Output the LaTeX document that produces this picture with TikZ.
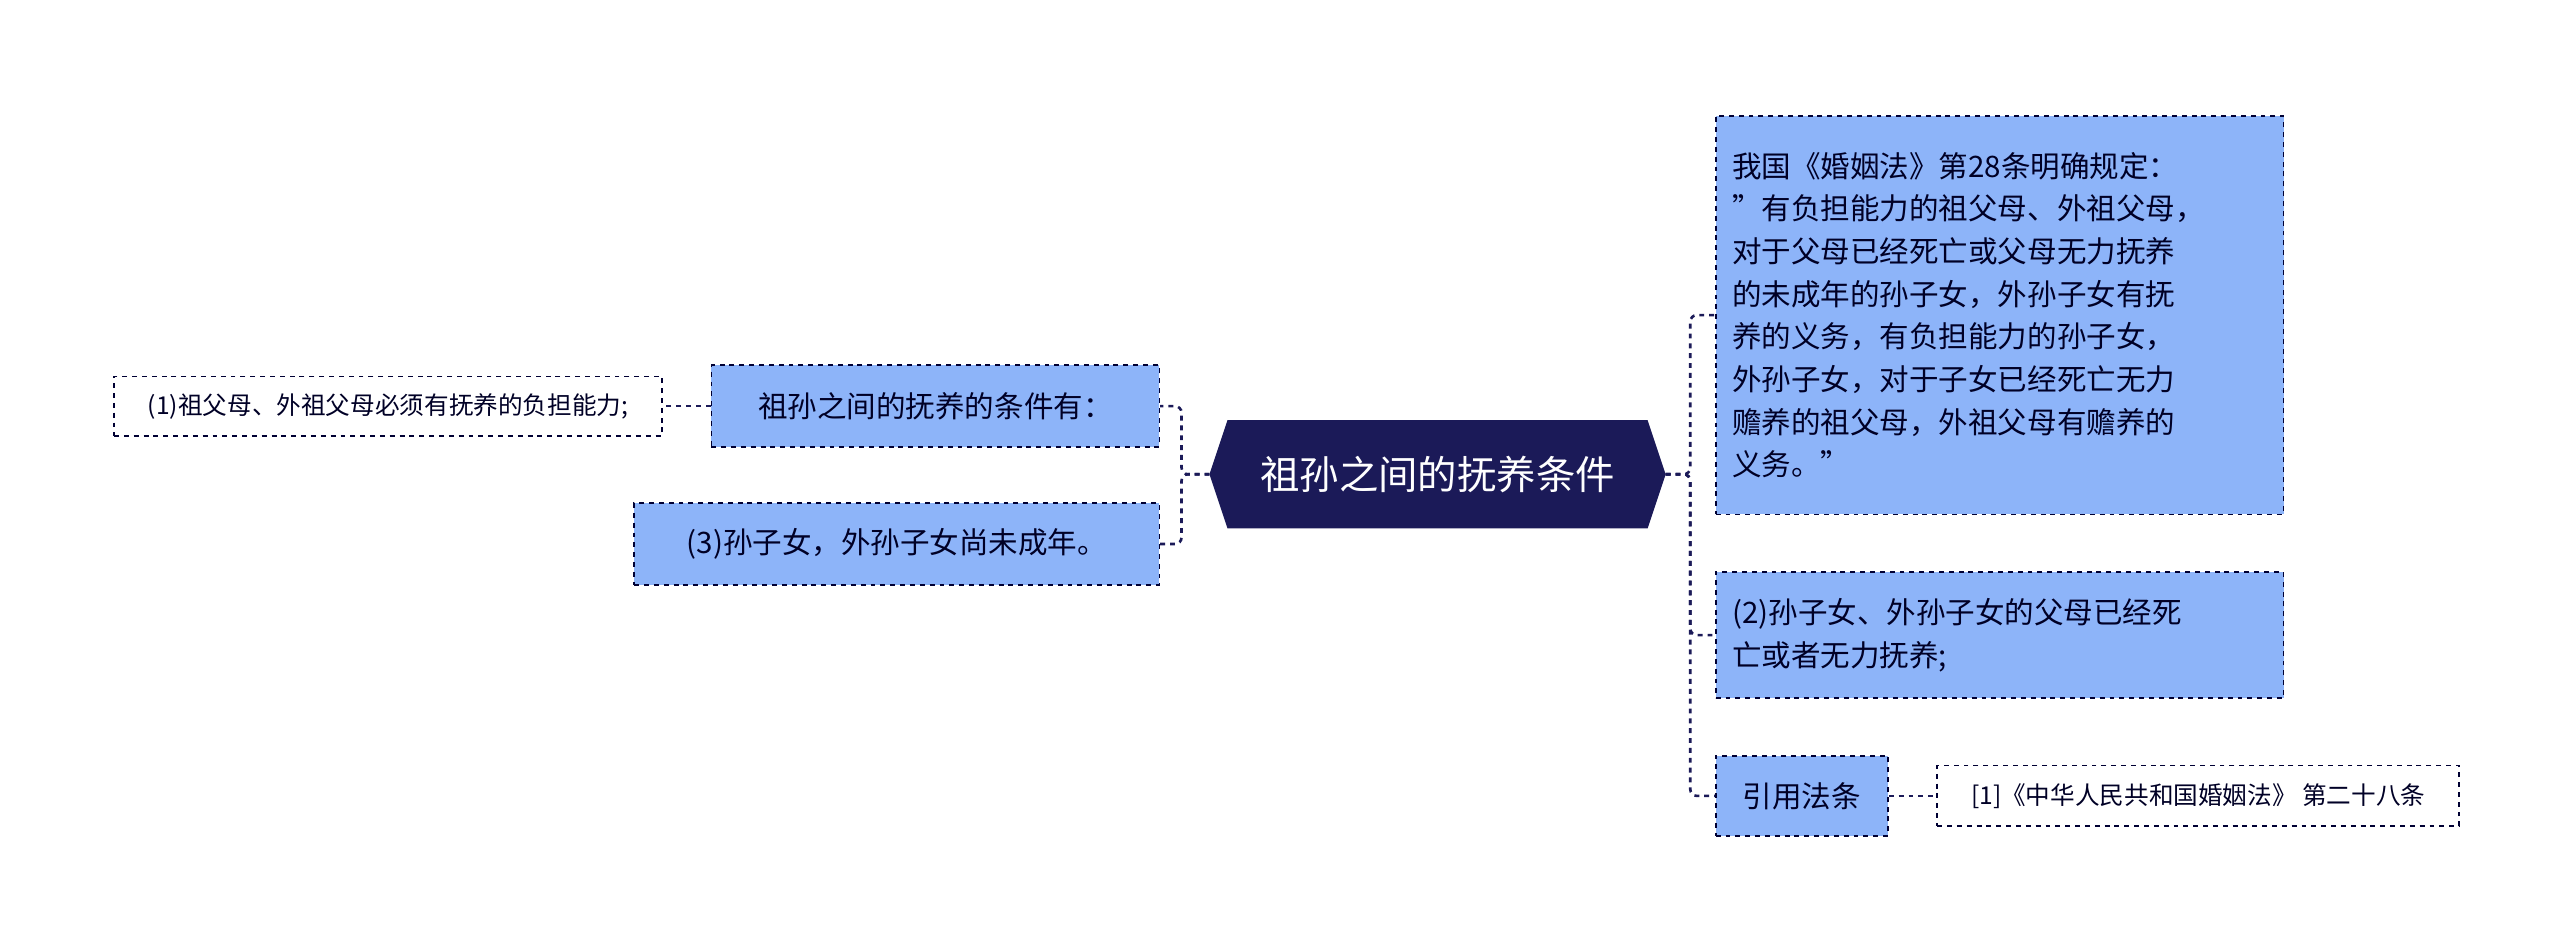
\documentclass[tikz,border=0pt]{standalone}
\usepackage{fontspec}
\setmainfont{Noto Sans CJK SC}
\begin{document}
\begin{tikzpicture}[x=1pt,y=-1pt,
 bx/.style={draw=black!80!blue,dashed,line width=1pt,fill=boxblue,inner sep=0pt,anchor=north west,font=\fontsize{18}{26}\selectfont,text=black!85!blue},
 lf/.style={bx,fill=white,font=\fontsize{15}{20}\selectfont},
 cn/.style={draw=navy,dashed,line width=1.6pt,rounded corners=4pt}]
\definecolor{boxblue}{HTML}{8DB4F9}
\definecolor{navy}{HTML}{1B1A58}
\useasboundingbox (0,0) rectangle (1560,576);
% center
\fill[navy] (737,289)--(748,256)--(1004,256)--(1015,289)--(1004,322)--(748,322)--cycle;
\node[text=white,font=\fontsize{24}{28}\selectfont] (c) at (876,289) {祖孙之间的抚养条件};
\coordinate (cr) at (1015,289);
\coordinate (cl) at (737,289);
% right
\node[bx,minimum width=346pt,minimum height=243pt,text width=326pt,align=left] (r1) at (1045,70) {我国《婚姻法》第28条明确规定：\\"有负担能力的祖父母、外祖父母，\\对于父母已经死亡或父母无力抚养\\的未成年的孙子女，外孙子女有抚\\养的义务，有负担能力的孙子女，\\外孙子女，对于子女已经死亡无力\\赡养的祖父母，外祖父母有赡养的\\义务。"};
\node[bx,minimum width=346pt,minimum height=77pt,text width=326pt,align=left] (r2) at (1045,348) {(2)孙子女、外孙子女的父母已经死\\亡或者无力抚养;};
\node[bx,minimum width=105pt,minimum height=49pt] (r3) at (1045,460) {引用法条};
\node[lf,minimum width=318pt,minimum height=37pt] (r4) at (1180,466) {[1]《中华人民共和国婚姻法》 第二十八条};
% left
\node[bx,minimum width=273pt,minimum height=50pt] (l1) at (433,222) {祖孙之间的抚养的条件有：};
\node[lf,minimum width=334pt,minimum height=36pt] (l2) at (69,229) {(1)祖父母、外祖父母必须有抚养的负担能力;};
\node[bx,minimum width=320pt,minimum height=50pt] (l3) at (386,306) {(3)孙子女，外孙子女尚未成年。};
% connectors
\draw[cn] (cr) -- (1030,289) |- (r1.west);
\draw[cn] (cr) -- (1030,289) |- (r2.west);
\draw[cn] (cr) -- (1030,289) |- (r3.west);
\draw[cn] (r3.east) -- (r4.west);
\draw[cn] (cl) -- (720,289) |- (l1.east);
\draw[cn] (cl) -- (720,289) |- (l3.east);
\draw[cn] (l1.west) -- (l2.east);
\end{tikzpicture}
\end{document}
